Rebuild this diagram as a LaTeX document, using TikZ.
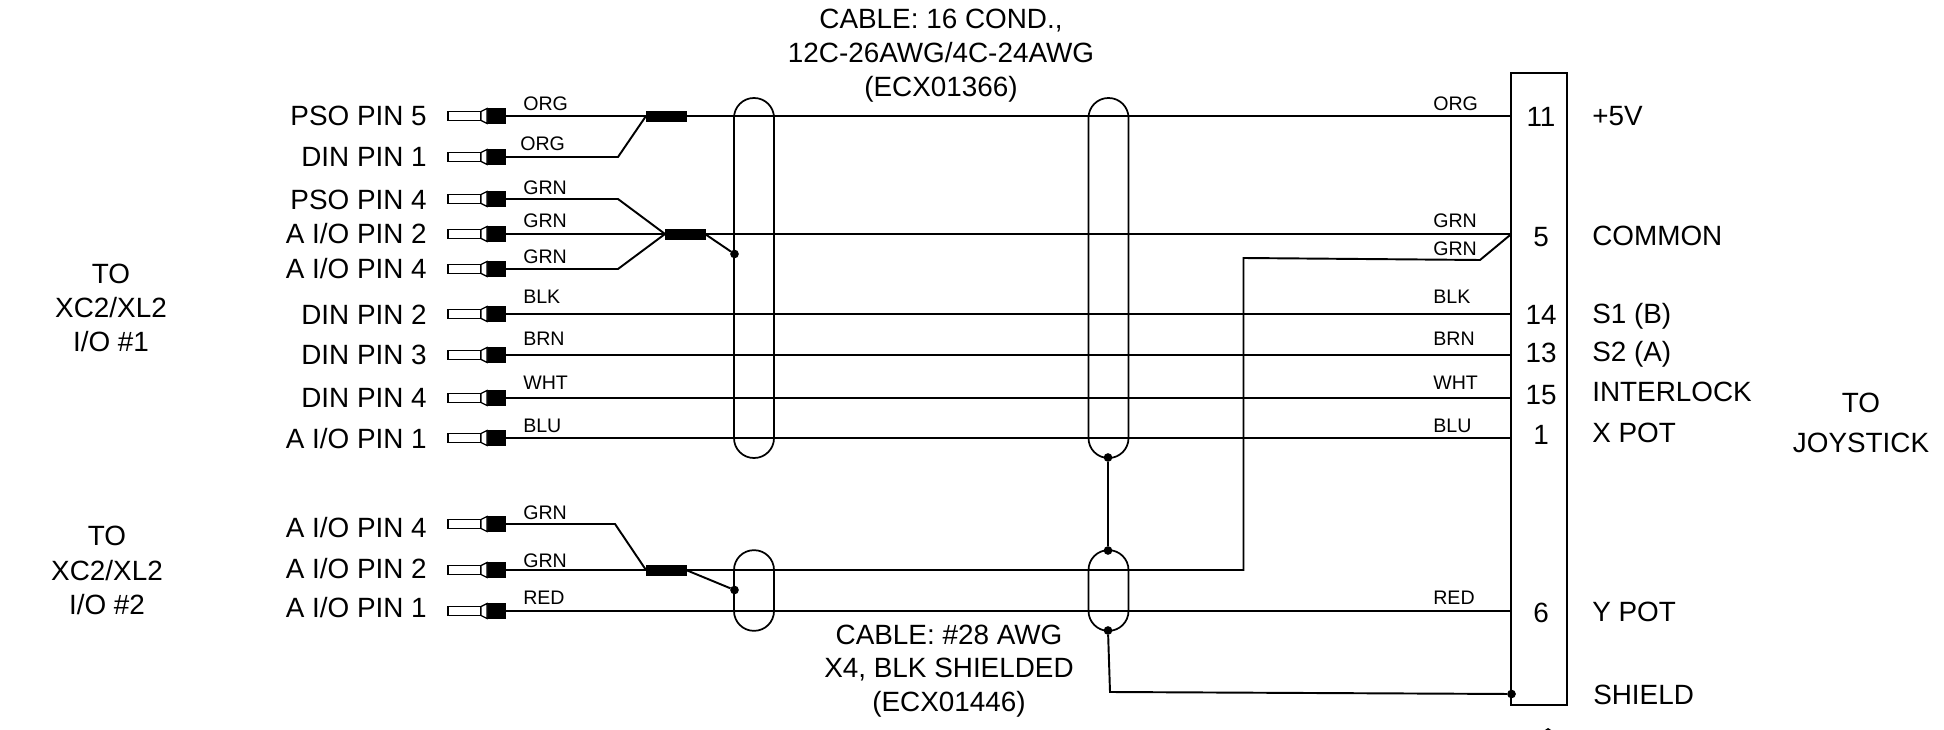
\documentclass[tikz,border=0pt]{standalone}
\usepackage{fontspec}
\setmainfont{Liberation Sans}
\tikzset{
  wire/.style={line width=1.45pt,black},
  bigtxt/.style={font=\fontsize{20.9}{24}\selectfont,inner sep=0pt,text height=15pt,text depth=0pt},
  smalltxt/.style={font=\fontsize{14.7}{17}\selectfont,inner sep=0pt,text height=10.5pt,text depth=0pt,anchor=west},
  pinname/.style={bigtxt,anchor=east},
  rightname/.style={bigtxt,anchor=west},
  ferblack/.style={fill=black,draw=black,line width=.3pt,minimum width=13.5pt,minimum height=11pt,inner sep=0pt,outer sep=0pt},
  splice/.style={fill=black,draw=black,line width=.3pt,minimum width=30pt,minimum height=7.5pt,inner sep=0pt,outer sep=0pt},
  bundle/.style={draw=black,line width=1.3pt,rounded corners=14.9pt,minimum width=30pt,inner sep=0pt,outer sep=0pt},
  dotn/.style={circle,fill=black,minimum size=6.5pt,inner sep=0pt,outer sep=0pt},
  conn/.style={draw=black,line width=1.45pt,minimum width=41.5pt,minimum height=474pt,inner sep=0pt,outer sep=0pt},
}
\newcommand{\ferr}[4]{%
  \node[ferblack] (f#1) at (496,#2) {};
  \draw[line width=1pt,fill=white] (448,#2-4.5) rectangle (481,#2+4.5);
  \draw[line width=1pt,fill=white] (481,#2-4.5) -- (487,#2-7.5) -- (487,#2+7.5) -- (481,#2+4.5) -- cycle;
  \node[pinname] (p#1) at (427,#3) {#4};
}
\begin{document}
\begin{tikzpicture}[x=0.75pt,y=-0.75pt]
\useasboundingbox (0,0) rectangle (1944,730);
% connector
\node[conn] (J) at (1539,389) {};
% ferrules
\ferr{a}{116}{116}{PSO PIN 5}
\ferr{b}{157}{157}{DIN PIN 1}
\ferr{c}{199}{200}{PSO PIN 4}
\ferr{d}{234}{234}{A I/O PIN 2}
\ferr{e}{269}{269}{A I/O PIN 4}
\ferr{f}{314}{315}{DIN PIN 2}
\ferr{g}{355}{355}{DIN PIN 3}
\ferr{h}{398}{398}{DIN PIN 4}
\ferr{i}{438}{439}{A I/O PIN 1}
\ferr{j}{524}{527}{A I/O PIN 4}
\ferr{k}{570}{568}{A I/O PIN 2}
\ferr{l}{611}{607}{A I/O PIN 1}
% splices
\node[splice] (s1) at (666,116) {};
\node[splice] (s2) at (685,234) {};
\node[splice] (s3) at (666,570) {};
% bundles
\node[bundle,minimum height=270pt] (b1) at (754,278) {};
\node[bundle,minimum height=270pt] (b2) at (1108.5,278) {};
\node[bundle,minimum height=60.5pt] (b3) at (754,590.5) {};
\node[bundle,minimum height=60.5pt] (b4) at (1108.5,590.5) {};
% dots
\node[dotn] (d1) at (734.5,254) {};
\node[dotn] (d2) at (734.5,590) {};
\node[dotn] (d3) at (1108,457.5) {};
\node[dotn] (d4) at (1108,550.5) {};
\node[dotn] (d5) at (1108,630.5) {};
\node[dotn] (d6) at (1511.5,694) {};
% bend coordinates
\coordinate (cb) at (618,157);
\coordinate (cc) at (618,199);
\coordinate (ce) at (618,269);
\coordinate (cj) at (615,524);
\coordinate (g1) at (1480,260);
\coordinate (g2) at (1243.5,258);
\coordinate (g3) at (1243.5,570);
\coordinate (sh) at (1110,692);
% wires
\draw[wire] (fa.east) -- (s1.west);
\draw[wire] (s1.east) -- (s1.east -| J.west);
\draw[wire] (fb.east) -- (cb) -- (s1.west);
\draw[wire] (fc.east) -- (cc) -- (s2.west);
\draw[wire] (fd.east) -- (s2.west);
\draw[wire] (fe.east) -- (ce) -- (s2.west);
\draw[wire] (s2.east) -- (s2.east -| J.west);
\draw[wire] (s2.east) -- (d1);
\draw[wire] (ff.east) -- (ff.east -| J.west);
\draw[wire] (fg.east) -- (fg.east -| J.west);
\draw[wire] (fh.east) -- (fh.east -| J.west);
\draw[wire] (fi.east) -- (fi.east -| J.west);
\draw[wire] (fj.east) -- (cj) -- (s3.west);
\draw[wire] (fk.east) -- (s3.west);
\draw[wire] (s3.east) -- (g3) -- (g2) -- (g1) -- (s2.east -| J.west);
\draw[wire] (s3.east) -- (d2);
\draw[wire] (fl.east) -- (fl.east -| J.west);
\draw[wire] (d3) -- (d4);
\draw[wire] (d5) -- (sh) -- (d6);
% wire labels left
\node[smalltxt] (wa) at (523,104) {ORG};
\node[smalltxt] (wb) at (520,144) {ORG};
\node[smalltxt] (wc) at (523,188) {GRN};
\node[smalltxt] (wd) at (523,221) {GRN};
\node[smalltxt] (we) at (523,257) {GRN};
\node[smalltxt] (wf) at (523,297) {BLK};
\node[smalltxt] (wg) at (523,339) {BRN};
\node[smalltxt] (wh) at (523,383) {WHT};
\node[smalltxt] (wi) at (523,425) {BLU};
\node[smalltxt] (wj) at (523,512) {GRN};
\node[smalltxt] (wk) at (523,560) {GRN};
\node[smalltxt] (wl) at (523,597) {RED};
% wire labels right
\node[smalltxt] (xa) at (1433,104) {ORG};
\node[smalltxt] (xb) at (1433,221) {GRN};
\node[smalltxt] (xc) at (1433,249) {GRN};
\node[smalltxt] (xd) at (1433,297) {BLK};
\node[smalltxt] (xe) at (1433,339) {BRN};
\node[smalltxt] (xf) at (1433,383) {WHT};
\node[smalltxt] (xg) at (1433,425) {BLU};
\node[smalltxt] (xh) at (1433,597) {RED};
% connector pin numbers
\node[bigtxt] (n1) at (1541,117) {11};
\node[bigtxt] (n2) at (1541,237) {5};
\node[bigtxt] (n3) at (1541,315) {14};
\node[bigtxt] (n4) at (1541,353) {13};
\node[bigtxt] (n5) at (1541,395) {15};
\node[bigtxt] (n6) at (1541,435) {1};
\node[bigtxt] (n7) at (1541,612) {6};
% right names
\node[rightname] (r1) at (1592,116) {+5V};
\node[rightname] (r2) at (1592,236) {COMMON};
\node[rightname] (r3) at (1592,314) {S1 (B)};
\node[rightname] (r4) at (1592,352) {S2 (A)};
\node[rightname] (r5) at (1592,392) {INTERLOCK};
\node[rightname] (r6) at (1592,432) {X POT};
\node[rightname] (r7) at (1592,611) {Y POT};
\node[rightname] (r8) at (1593,694) {SHIELD};
% group labels
\node[bigtxt] (t1) at (111,274) {TO};
\node[bigtxt] (t2) at (111,308) {XC2/XL2};
\node[bigtxt] (t3) at (111,342) {I/O \#1};
\node[bigtxt] (t4) at (107,535) {TO};
\node[bigtxt] (t5) at (107,570) {XC2/XL2};
\node[bigtxt] (t6) at (107,604) {I/O \#2};
\node[bigtxt] (t7) at (1861,403) {TO};
\node[bigtxt] (t8) at (1861,443) {JOYSTICK};
% cable notes
\node[bigtxt] (c1) at (941,19) {CABLE: 16 COND.,};
\node[bigtxt] (c2) at (941,53) {12C-26AWG/4C-24AWG};
\node[bigtxt] (c3) at (941,87) {(ECX01366)};
\node[bigtxt] (c4) at (949,634) {CABLE: \#28 AWG};
\node[bigtxt] (c5) at (949,667) {X4, BLK SHIELDED};
\node[bigtxt] (c6) at (949,701) {(ECX01446)};
% cut-off tip at the lower edge
\fill[black] (1548,728) -- (1545,730) -- (1551,730) -- cycle;
\end{tikzpicture}
\end{document}
